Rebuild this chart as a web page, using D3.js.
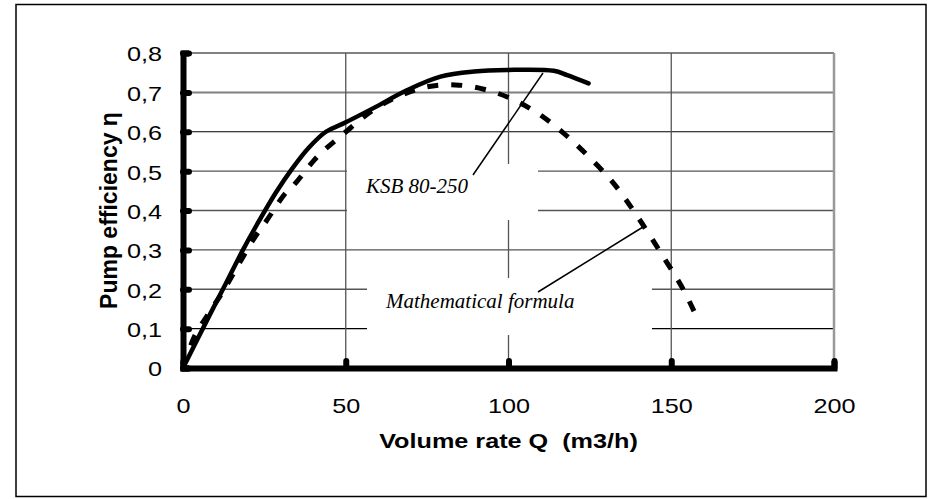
<!DOCTYPE html>
<html>
<head>
<meta charset="utf-8">
<script src="https://cdn.jsdelivr.net/npm/d3@7"></script>
<style>
  body { margin: 0; background: #fff; }
  svg { display: block; }
  .tick text { font-family: "Liberation Sans", Arial, sans-serif; font-size: 21px; fill: #000; }
</style>
</head>
<body>
<div id="chart"></div>
<script>
// KSB 80-250 catalogue curve (solid)
const ksbQ = [0, 8.1, 13.2, 18.3, 23.4, 28.5, 33.6, 38.7, 43.9, 49, 58.5, 68.9, 79.1, 89.4, 99.6, 113.9, 118, 124.6];
const ksbEta = [0, 0.133, 0.215, 0.298, 0.374, 0.445, 0.507, 0.56, 0.6, 0.62, 0.66, 0.706, 0.74, 0.753, 0.757, 0.755, 0.744, 0.723];

// mathematical formula curve (dashed)
const mathQ = [0, 3.5, 8, 12.7, 17.3, 21.9, 25.5, 31.1, 34.1, 40.3, 42.8, 49.5, 57.7, 65.9, 75, 83.7, 92.4, 100.6, 108.8, 117, 124.6, 132.3, 140, 148.2, 153.8, 157.9];
const mathEta = [0, 0.08, 0.14, 0.2, 0.266, 0.33, 0.372, 0.44, 0.465, 0.528, 0.549, 0.596, 0.651, 0.689, 0.714, 0.719, 0.708, 0.685, 0.648, 0.596, 0.537, 0.469, 0.38, 0.274, 0.198, 0.128];

// ticks
const xTicks = [0, 50, 100, 150, 200];
const yTicks = [0, 0.1, 0.2, 0.3, 0.4, 0.5, 0.6, 0.7, 0.8];
const yTickLabels = ["0", "0,1", "0,2", "0,3", "0,4", "0,5", "0,6", "0,7", "0,8"];

// labels
const xTitle = "Volume rate Q  (m3/h)";
const yTitle = "Pump efficiency η";
const ksbLabel = "KSB 80-250";
const mathLabel = "Mathematical formula";

const W = 929, H = 499;

// the original picture is a bit wider than tall, stretch sans texts sideways
function stretch(sel, k) {
  sel.each(function () {
    const len = this.getComputedTextLength();
    d3.select(this)
      .attr("textLength", len * k)
      .attr("lengthAdjust", "spacingAndGlyphs");
  });
}

const svg = d3
  .select("#chart")
  .append("svg")
  .attr("width", W)
  .attr("height", H);

// outer frame
svg
  .append("rect")
  .attr("x", 16)
  .attr("y", 4.5)
  .attr("width", 910)
  .attr("height", 492)
  .attr("fill", "#fff")
  .attr("stroke", "#000")
  .attr("stroke-width", 1.5);

// scales
const x = d3.scaleLinear().domain([0, 200]).range([183, 834]);
const y = d3.scaleLinear().domain([0, 0.8]).range([368, 53]);

// horizontal grid lines
const gridStyle = (v) => {
  if (v >= 0.7) return { c: "#808080", w: 2 };
  if (Math.abs(v - 0.6) < 1e-6 || Math.abs(v - 0.1) < 1e-6) return { c: "#000", w: 1.2 };
  return { c: "#555", w: 1.4 };
};
svg
  .append("g")
  .selectAll("line")
  .data(yTicks.filter((d) => d > 0))
  .join("line")
  .attr("x1", x(0))
  .attr("x2", x(200))
  .attr("y1", (d) => y(d))
  .attr("y2", (d) => y(d))
  .attr("stroke", (d) => gridStyle(d).c)
  .attr("stroke-width", (d) => gridStyle(d).w);

// vertical grid lines
svg
  .append("g")
  .selectAll("line")
  .data(xTicks.filter((d) => d > 0))
  .join("line")
  .attr("x1", (d) => x(d))
  .attr("x2", (d) => x(d))
  .attr("y1", y(0.8))
  .attr("y2", y(0))
  .attr("stroke", (d) => (d === 200 ? "#999" : "#555"))
  .attr("stroke-width", (d) => (d === 200 ? 2.5 : 1.3));

// white boxes behind the annotation texts (they cut the grid)
svg
  .append("rect")
  .attr("x", 347)
  .attr("y", 164)
  .attr("width", 191)
  .attr("height", 56)
  .attr("fill", "#fff");
svg
  .append("rect")
  .attr("x", 367)
  .attr("y", 278)
  .attr("width", 285)
  .attr("height", 57)
  .attr("fill", "#fff");

// X & Y axes
const xAxis = svg
  .append("g")
  .attr("transform", `translate(0,${y(0)})`)
  .call(d3.axisBottom(x).tickValues(xTicks).tickSize(-7).tickPadding(30));
xAxis.select(".domain").attr("stroke", "#000").attr("stroke-width", 6);
xAxis
  .selectAll(".tick line")
  .attr("stroke", "#000")
  .attr("stroke-width", 6)
  .attr("stroke-linecap", "round");
stretch(xAxis.selectAll(".tick text"), 1.2);

const yAxis = svg
  .append("g")
  .attr("transform", `translate(${x(0)},0)`)
  .call(
    d3
      .axisLeft(y)
      .tickValues(yTicks)
      .tickFormat((d, i) => yTickLabels[i])
      .tickSize(-6)
      .tickPadding(21),
  );
yAxis.select(".domain").attr("stroke", "#000").attr("stroke-width", 6);
yAxis
  .selectAll(".tick line")
  .attr("stroke", "#000")
  .attr("stroke-width", 6)
  .attr("stroke-linecap", "round");
yAxis.selectAll(".tick text").attr("dy", "0.38em");
stretch(yAxis.selectAll(".tick text"), 1.2);

// Line generator (smooth curve)
const line = d3
  .line()
  .x((d) => x(d[0]))
  .y((d) => y(d[1]))
  .curve(d3.curveCatmullRom.alpha(0.5));

// Draw dashed formula line
svg
  .append("path")
  .datum(mathQ.map((q, i) => [q, mathEta[i]]))
  .attr("fill", "none")
  .attr("stroke", "#000")
  .attr("stroke-width", 5)
  .attr("stroke-dasharray", "11,13")
  .attr("d", line);

// Draw solid KSB line
svg
  .append("path")
  .datum(ksbQ.map((q, i) => [q, ksbEta[i]]))
  .attr("fill", "none")
  .attr("stroke", "#000")
  .attr("stroke-width", 4.5)
  .attr("stroke-linecap", "round")
  .attr("stroke-linejoin", "round")
  .attr("d", line);

// annotations
const serif = '"Liberation Serif", "Times New Roman", serif';
svg
  .append("line")
  .attr("x1", 473)
  .attr("y1", 175)
  .attr("x2", 543)
  .attr("y2", 73)
  .attr("stroke", "#000")
  .attr("stroke-width", 1.5);
svg
  .append("text")
  .attr("x", 366)
  .attr("y", 193)
  .attr("font-family", serif)
  .attr("font-style", "italic")
  .attr("font-size", "21px")
  .text(ksbLabel);

svg
  .append("line")
  .attr("x1", 538)
  .attr("y1", 292)
  .attr("x2", 643)
  .attr("y2", 227)
  .attr("stroke", "#000")
  .attr("stroke-width", 1.5);
svg
  .append("text")
  .attr("x", 386)
  .attr("y", 308)
  .attr("font-family", serif)
  .attr("font-style", "italic")
  .attr("font-size", "21px")
  .text(mathLabel);

// Axis labels
const sans = '"Liberation Sans", Arial, sans-serif';
const xt = svg
  .append("text")
  .attr("x", (x(0) + x(200)) / 2)
  .attr("y", 448)
  .attr("text-anchor", "middle")
  .attr("font-family", sans)
  .attr("font-weight", "bold")
  .attr("font-size", "21px")
  .style("white-space", "pre")
  .text(xTitle);
stretch(xt, 1.2);

svg
  .append("text")
  .attr("transform", `translate(117,${(y(0) + y(0.8)) / 2}) rotate(-90)`)
  .attr("text-anchor", "middle")
  .attr("font-family", sans)
  .attr("font-weight", "bold")
  .attr("font-size", "23px")
  .text(yTitle);
</script>
</body>
</html>
